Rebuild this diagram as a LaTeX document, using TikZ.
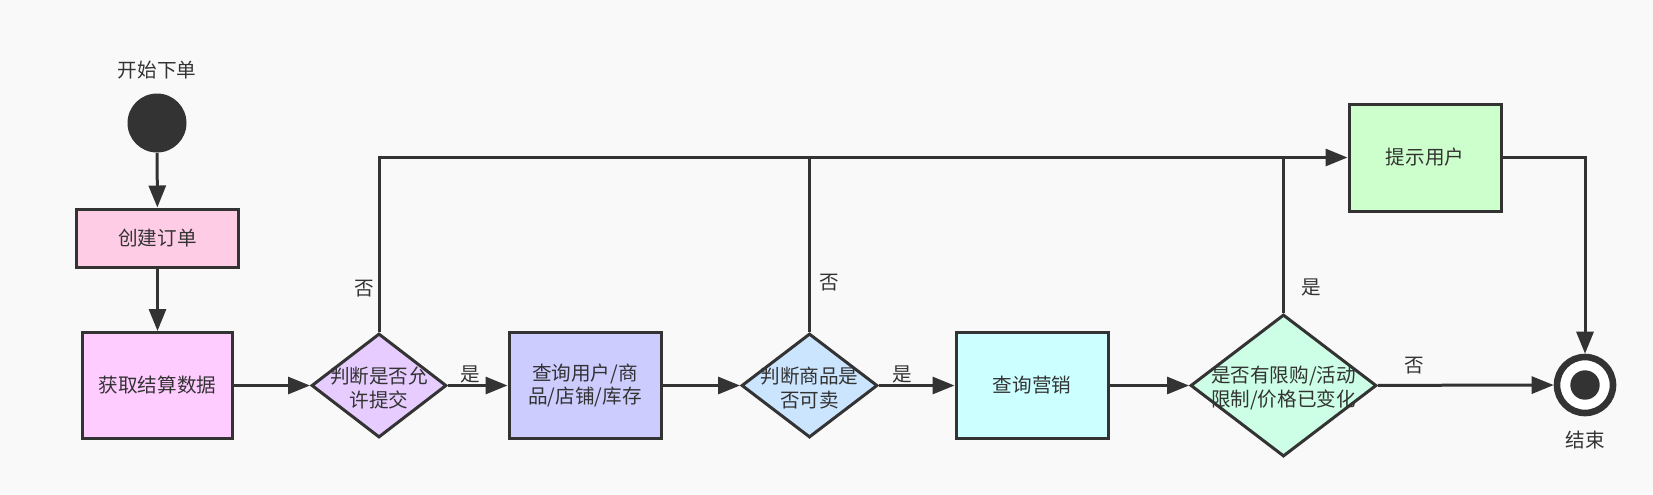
\documentclass[tikz,border=0pt]{standalone}
\usepackage{fontspec}
\setmainfont{Noto Sans CJK SC}
\usetikzlibrary{shapes.geometric,arrows.meta}
\definecolor{ink}{HTML}{333333}
\definecolor{bg}{HTML}{F9F9F9}
\definecolor{cCreate}{HTML}{FFCCE6}
\definecolor{cFetch}{HTML}{FFCCFF}
\definecolor{cDone}{HTML}{E6CCFF}
\definecolor{cQueryA}{HTML}{CCCCFF}
\definecolor{cDtwo}{HTML}{CCE5FF}
\definecolor{cQueryB}{HTML}{CCFFFF}
\definecolor{cDthree}{HTML}{CCFFE6}
\definecolor{cPrompt}{HTML}{CCFFCC}
\newcommand{\fsz}{\fontsize{9.8}{11.6}\selectfont}
\tikzset{
  box/.style={rectangle, draw=ink, line width=1.5pt, inner sep=0pt, align=center, font=\fsz, text=ink},
  dia/.style={diamond, draw=ink, line width=1.5pt, inner sep=0pt},
  conn/.style={line width=1.5pt, draw=ink, -{Triangle[length=11pt,width=8.5pt]}},
  plain/.style={line width=1.5pt, draw=ink},
  lbl/.style={text=ink, font=\fsz, inner sep=0pt, align=center}
}
\begin{document}
\begin{tikzpicture}[x=0.5pt,y=-0.5pt]
\fill[bg] (0,0) rectangle (1653,494);
\useasboundingbox (0,0) rectangle (1653,494);

% start
\node[lbl] (tstart) at (157,70) {开始下单};
\node[circle, fill=ink, minimum size=29.5pt, inner sep=0pt] (start) at (157,123) {};

% boxes
\node[box, fill=cCreate, minimum width=81pt, minimum height=29pt] (create) at (157.5,238) {创建订单};
\node[box, fill=cFetch, minimum width=75pt, minimum height=53pt] (fetch) at (157.5,385.5) {获取结算数据};
\node[dia, fill=cDone, minimum width=67.5pt, minimum height=52pt] (d1) at (379,385.5) {};
\node[lbl] (d1t) at (379,388) {判断是否允\\许提交};
\node[box, fill=cQueryA, minimum width=76pt, minimum height=53pt] (qa) at (585,385.5) {查询用户/商\\品/店铺/库存};
\node[dia, fill=cDtwo, minimum width=68pt, minimum height=52pt] (d2) at (809.5,385.5) {};
\node[lbl] (d2t) at (809.5,388) {判断商品是\\否可卖};
\node[box, fill=cQueryB, minimum width=76pt, minimum height=53pt] (qb) at (1032,385.5) {查询营销};
\node[dia, fill=cDthree, minimum width=93pt, minimum height=71pt] (d3) at (1283.5,385.5) {};
\node[lbl] (d3t) at (1283.5,388) {是否有限购/活动\\限制/价格已变化};
\node[box, fill=cPrompt, minimum width=76pt, minimum height=53.5pt] (prompt) at (1425,157.5) {提示用户};

% end
\node[circle, draw=ink, fill=white, line width=3.3pt, minimum size=28pt, inner sep=0pt] (end) at (1585,385) {};
\node[circle, fill=ink, minimum size=14.7pt, inner sep=0pt] (enddot) at (end) {};
\node[lbl] (tend) at (1585,440) {结束};

% connectors
\draw[conn] (start) -- (create);
\draw[conn] (create) -- (fetch);
\draw[conn] (fetch) -- (d1);
\draw[conn] (d1) -- (qa);
\draw[conn] (qa) -- (d2);
\draw[conn] (d2) -- (qb);
\draw[conn] (qb) -- (d3);
\draw[conn] (d3) -- (end);
\draw[conn] (d1.north) |- (prompt.west);
\draw[plain] (d2.north) -- (d2.north |- prompt.west);
\draw[plain] (d3.north) -- (d3.north |- prompt.west);
\draw[conn] (prompt.east) -| (end.north);

% edge labels
\node[lbl] (l1) at (470,374) {是};
\node[lbl] (l2) at (902,374) {是};
\node[lbl] (l3) at (1414,366) {否};
\node[lbl] (l4) at (364,289) {否};
\node[lbl] (l5) at (829,283) {否};
\node[lbl] (l6) at (1311,287) {是};
\end{tikzpicture}
\end{document}
